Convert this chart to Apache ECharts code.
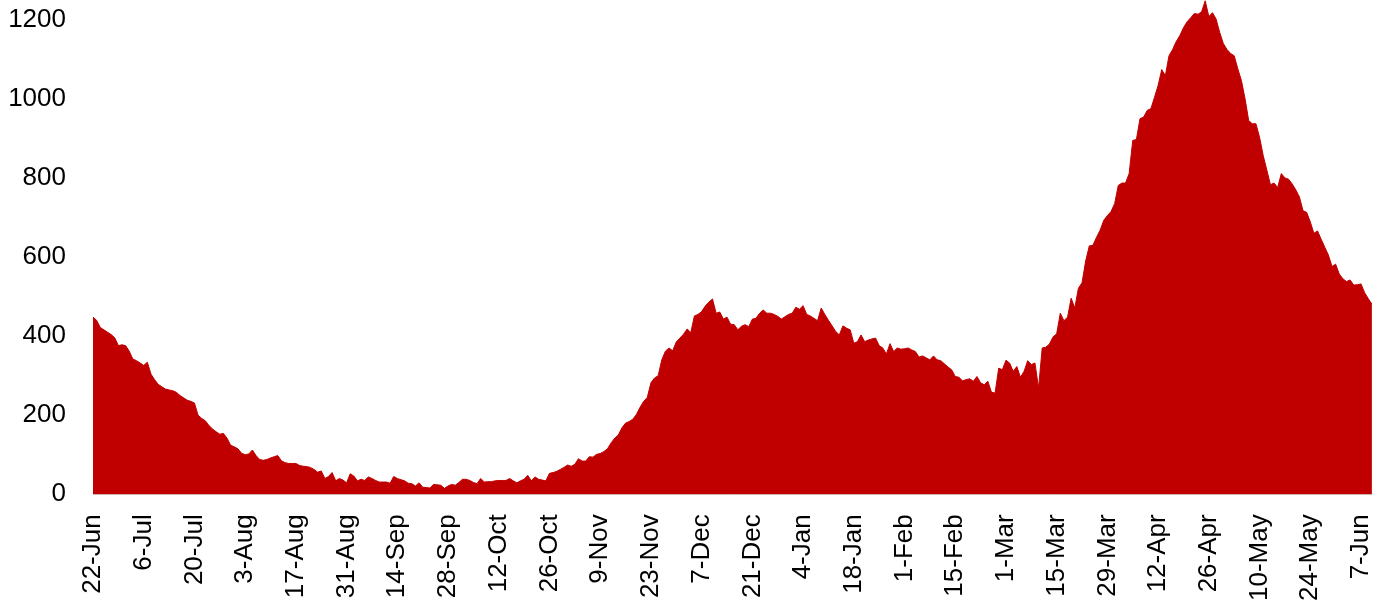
<!DOCTYPE html>
<html>
<head>
<meta charset="utf-8">
<script src="https://cdn.jsdelivr.net/npm/echarts@6/dist/echarts.min.js"></script>
<style>
html,body{margin:0;padding:0;background:#fff;}
#chart{width:1374px;height:604px;}
</style>
</head>
<body>
<div id="chart"></div>
<script>
// Daily values, 22-Jun-2020 onward
var summerVals = [448,440,422,416,410,404,396,376,378,376,362,342,338,332,326,334,304,290,278,272,266,264,262,258,250,244,238,235,231,200,192,186,174,165,158,152,154,142,124,120,115,104,100,102,112,98];
var lateSummerVals = [88,86,88,92,95,98,85,80,78,78,78,73,71,70,68,63,56,59,40,45,55,34,40,36,29,52,46,34,38,35,44,40,35,31,31,31,28,45,40,37,34,28,27,21,29,18,17];
var autumnVals = [16,25,24,23,15,21,25,23,30,38,38,35,30,27,40,31,32,32,34,35,35,35,40,34,29,34,38,48,34,44,38,36,34,53,55,58,63,68,74,71,76,90,84,84,95,94,101];
var lateAutumnVals = [103,108,115,130,142,150,168,180,184,190,202,220,235,245,282,294,300,340,362,370,363,385,395,405,418,409,451,455,462,476,486,494,458,461,443,448,430,429,416,425,429,424,443,445,458,466,458];
var winterVals = [458,455,450,443,449,455,458,473,468,477,455,451,445,439,471,455,440,426,412,403,426,420,416,382,386,403,386,390,393,395,376,370,355,381,361,370,367,368,370,365,361,347,350,345,340,350,340];
var lateWinterVals = [338,330,322,315,298,296,287,290,292,286,298,282,277,286,258,256,319,315,339,332,311,323,296,311,338,328,332,269,370,372,380,398,406,458,439,448,496,471,521,535,590,628,630];
var springVals = [650,668,693,705,715,735,781,787,787,811,895,897,950,954,971,975,1004,1034,1074,1059,1109,1125,1145,1160,1180,1195,1205,1216,1214,1220,1248,1208,1218,1202,1168,1140,1125,1115,1109,1076,1046,1000];
var lateSpringVals = [945,937,937,903,857,820,783,787,776,811,800,797,785,770,752,717,713,689,660,666,645,625,605,576,582,557,545,538,542,529,530,532,510,495,481];

var values = [].concat(summerVals, lateSummerVals, autumnVals, lateAutumnVals, winterVals, lateWinterVals, springVals, lateSpringVals);

var monthNames = ['Jan','Feb','Mar','Apr','May','Jun','Jul','Aug','Sep','Oct','Nov','Dec'];
var startDate = Date.UTC(2020, 5, 22);
var categories = [];
for (var i = 0; i < values.length; i++) {
  var d = new Date(startDate + i * 86400000);
  categories.push(d.getUTCDate() + '-' + monthNames[d.getUTCMonth()]);
}
var yTicks = [0, 200, 400, 600, 800, 1000, 1200];

var chart = echarts.init(document.getElementById('chart'), null, {renderer: 'canvas'});
var fontFamily = "'Liberation Sans', Arial, sans-serif";
chart.setOption({
  animation: false,
  backgroundColor: '#ffffff',
  grid: {left: 93, right: 0, top: 0, bottom: 109, containLabel: false},
  xAxis: {
    type: 'category',
    data: categories,
    boundaryGap: false,
    axisLine: {show: true, lineStyle: {color: '#d9d9d9', width: 1}},
    axisTick: {show: false},
    splitLine: {show: false},
    axisLabel: {
      interval: 13,
      rotate: 90,
      margin: 20,
      color: '#000',
      fontSize: 26,
      fontFamily: fontFamily
    }
  },
  yAxis: {
    type: 'value',
    min: 0,
    max: 1250,
    interval: 200,
    axisLine: {show: false},
    axisTick: {show: false},
    splitLine: {show: false},
    axisLabel: {
      showMaxLabel: false,
      margin: 27,
      color: '#000',
      fontSize: 26,
      fontFamily: fontFamily,
      formatter: function (v) { return yTicks.indexOf(v) >= 0 ? String(v) : ''; }
    }
  },
  series: [{
    type: 'line',
    data: values,
    showSymbol: false,
    symbol: 'none',
    lineStyle: {width: 1, color: '#C00000'},
    areaStyle: {color: '#C00000', opacity: 1},
    itemStyle: {color: '#C00000'}
  }]
});
</script>
</body>
</html>
